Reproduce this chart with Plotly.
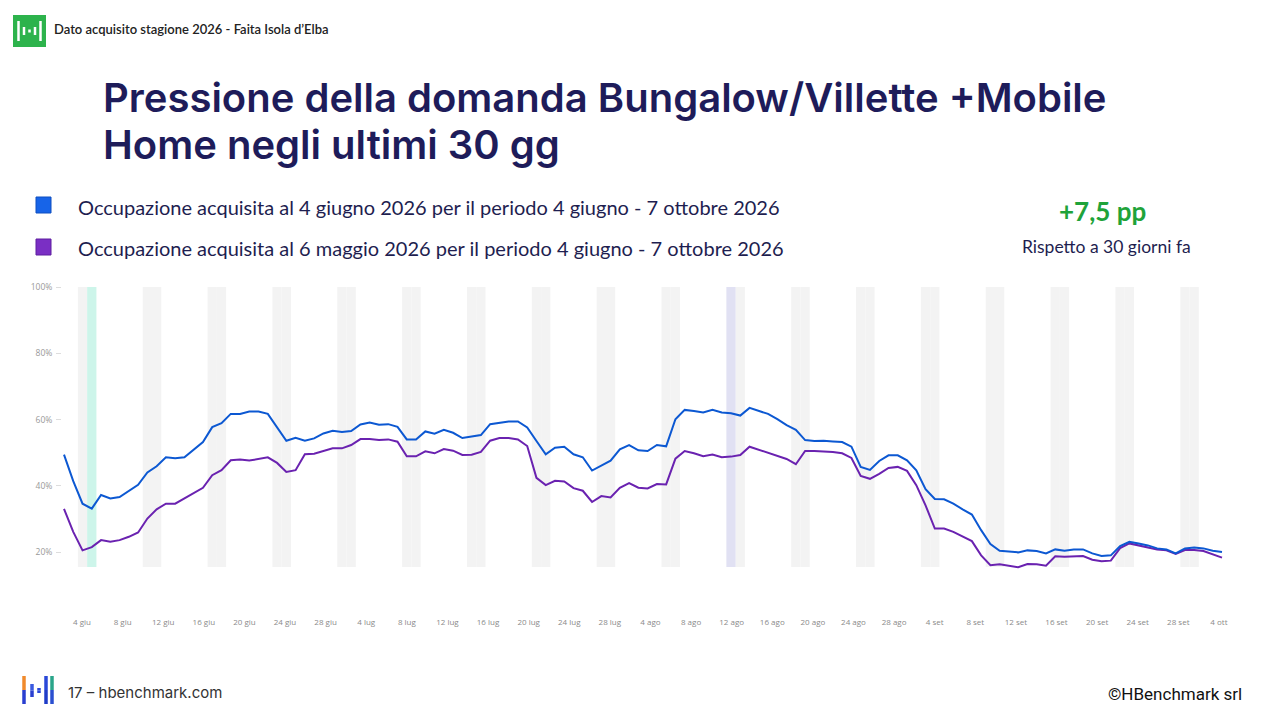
import plotly.graph_objects as go
import pandas as pd

# ---------------- data ----------------
start_date = "2026-06-04"
end_date = "2026-10-07"
dates = pd.date_range(start_date, end_date, freq="D")

occ_4_giugno = [
    49.4, 41.4, 34.6, 33.1, 37.2, 36.2, 36.6, 38.4, 40.3, 44.0,
    45.9, 48.6, 48.3, 48.6, 51.0, 53.2, 57.7, 58.9, 61.7, 61.7,
    62.4, 62.4, 61.7, 57.5, 53.6, 54.5, 53.6, 54.3, 55.8, 56.6,
    56.2, 56.5, 58.5, 59.1, 58.4, 58.6, 57.8, 54.0, 54.0, 56.4,
    55.7, 56.9, 56.0, 54.4, 54.9, 55.3, 58.6, 59.1, 59.4, 59.4,
    57.6, 53.5, 49.5, 51.5, 51.8, 49.5, 48.6, 44.6, 46.0, 47.6,
    51.0, 52.3, 50.7, 50.5, 52.3, 51.9, 60.1, 62.9, 62.6, 62.1,
    62.9, 62.1, 61.9, 61.2, 63.5, 62.7, 61.7, 60.1, 58.3, 56.9,
    53.8, 53.5, 53.6, 53.4, 53.2, 51.8, 45.7, 44.8, 47.5, 49.2,
    49.2, 47.7, 44.7, 39.0, 36.0, 35.9, 34.6, 32.9, 31.3, 26.6,
    22.4, 20.4, 20.2, 19.9, 20.5, 20.3, 19.6, 20.8, 20.4, 20.8,
    20.8, 19.6, 18.8, 19.0, 21.8, 23.1, 22.6, 22.0, 21.1, 20.8,
    19.6, 21.1, 21.4, 21.1, 20.4, 20.0,
]

occ_6_maggio = [
    33.0, 26.1, 20.5, 21.5, 23.6, 23.1, 23.6, 24.6, 25.9, 30.1,
    32.9, 34.6, 34.6, 36.2, 38.0, 39.4, 43.2, 44.7, 47.7, 47.9,
    47.6, 48.2, 48.6, 46.9, 44.2, 44.7, 49.5, 49.7, 50.5, 51.3,
    51.3, 52.3, 54.1, 54.1, 53.8, 54.0, 53.3, 48.9, 48.9, 50.4,
    49.8, 51.1, 50.6, 49.3, 49.4, 50.2, 53.6, 54.4, 54.4, 54.0,
    52.0, 42.4, 40.2, 41.5, 41.3, 39.3, 38.5, 35.1, 36.9, 36.5,
    39.4, 40.8, 39.4, 39.2, 40.5, 40.4, 48.2, 50.5, 49.8, 48.9,
    49.4, 48.6, 48.8, 49.3, 51.8, 50.9, 49.9, 49.0, 48.1, 46.5,
    50.5, 50.5, 50.4, 50.2, 49.8, 48.4, 43.0, 42.1, 43.6, 45.4,
    45.7, 44.5, 40.2, 34.1, 27.1, 27.1, 26.1, 24.6, 23.3, 19.0,
    16.0, 16.3, 15.8, 15.4, 16.4, 16.3, 15.9, 18.7, 18.6, 18.7,
    18.8, 17.7, 17.2, 17.4, 21.2, 22.6, 22.0, 21.5, 20.8, 20.5,
    19.4, 20.6, 20.6, 20.3, 19.3, 18.3,
]

tick_labels = [
    "4 giu", "8 giu", "12 giu", "16 giu", "20 giu", "24 giu", "28 giu",
    "4 lug", "8 lug", "12 lug", "16 lug", "20 lug", "24 lug", "28 lug",
    "4 ago", "8 ago", "12 ago", "16 ago", "20 ago", "24 ago", "28 ago",
    "4 set", "8 set", "12 set", "16 set", "20 set", "24 set", "28 set",
    "4 ott",
]

y_tick_values = [20, 40, 60, 80, 100]
y_tick_labels = ["20%", "40%", "60%", "80%", "100%"]

series_names = [
    "Occupazione acquisita al 4 giugno 2026 per il periodo 4 giugno - 7 ottobre 2026",
    "Occupazione acquisita al 6 maggio 2026 per il periodo 4 giugno - 7 ottobre 2026",
]
highlight_days = ["2026-06-07", "2026-08-15"]
delta_text = "+7,5 pp"
delta_sub = "Rispetto a 30 giorni fa"

# ---------------- styles / layout ----------------
W, H = 1280, 720
L, R, T, B = 62, 1240, 287, 612
PX_PER_DAY = 9.264
BLUE = "#0c58d2"
PURPLE = "#6a22b0"
NAVY = "#1e1c5a"
BAND_GRAY = "#f3f3f3"
HIGHLIGHT_COLORS = ["#cdf5ea", "#e1e1f3"]
BAND_BOTTOM = 15.5


def px(x):
    return (x - L) / (R - L)


def py(y):
    return (B - y) / (B - T)


d0 = pd.Timestamp(start_date)
x_min = d0 + pd.Timedelta(days=(L - 64) / PX_PER_DAY)
x_max = d0 + pd.Timedelta(days=(R - 64) / PX_PER_DAY)
tick_first = 1.943
tick_step = 4.383
tickvals = [d0 + pd.Timedelta(days=tick_first + i * tick_step) for i in range(len(tick_labels))]

fig = go.Figure()

fig.add_trace(go.Scatter(
    x=dates, y=occ_6_maggio, mode="lines", name=series_names[1],
    line=dict(color=PURPLE, width=2), cliponaxis=False, hoverinfo="skip",
))
fig.add_trace(go.Scatter(
    x=dates, y=occ_4_giugno, mode="lines", name=series_names[0],
    line=dict(color=BLUE, width=2), cliponaxis=False, hoverinfo="skip",
))

shapes = []
half = pd.Timedelta(hours=12)
hl = [pd.Timestamp(d) for d in highlight_days]
for d in dates:
    if d.dayofweek >= 5 and d not in hl:
        shapes.append(dict(type="rect", xref="x", yref="y", x0=d - half, x1=d + half,
                           y0=BAND_BOTTOM, y1=100, fillcolor=BAND_GRAY, line_width=0, layer="below"))
for d, c in zip(hl, HIGHLIGHT_COLORS):
    shapes.append(dict(type="rect", xref="x", yref="y", x0=d - half, x1=d + half,
                       y0=BAND_BOTTOM, y1=100, fillcolor=c, line_width=0, layer="below"))

# legend squares
for (y0, y1), fill, border in [((197, 213), "#1764e8", "#0e4fc0"), ((239, 255), "#7a2fc4", "#5e1fa0")]:
    shapes.append(dict(type="rect", xref="paper", yref="paper", x0=px(36), x1=px(51),
                       y0=py(y1), y1=py(y0), fillcolor=fill, line=dict(color=border, width=1)))

# header logo
shapes.append(dict(type="rect", xref="paper", yref="paper", x0=px(13), x1=px(46),
                   y0=py(47), y1=py(15), fillcolor="#2db34c", line_width=0))
for x, ya, yb in [(18.5, 21, 41), (24, 27, 35), (29.5, 29.5, 32.5), (35, 27, 35), (40.5, 21, 41)]:
    shapes.append(dict(type="line", xref="paper", yref="paper", x0=px(x), x1=px(x),
                       y0=py(yb), y1=py(ya), line=dict(color="white", width=2.5)))

# footer logo
for x, ya, yb, ctop, cbot in [(24, 676, 704, "#f08a2c", "#2a3fd0"), (32, 684, 697, "#3a5ae0", "#2a3fd0"),
                              (39, 688, 693, "#2a48d8", "#2a48d8"), (46, 676, 704, "#2a48d8", "#1f3cc8"),
                              (52, 676, 704, "#2aa58a", "#2a4fd0")]:
    ym = (ya + yb) / 2
    shapes.append(dict(type="line", xref="paper", yref="paper", x0=px(x), x1=px(x),
                       y0=py(ym), y1=py(ya), line=dict(color=ctop, width=3.5)))
    shapes.append(dict(type="line", xref="paper", yref="paper", x0=px(x), x1=px(x),
                       y0=py(yb), y1=py(ym), line=dict(color=cbot, width=3.5)))

annotations = []


def text(x, y, s, size, color, family="Lato", anchor="left", weight="normal"):
    annotations.append(dict(xref="paper", yref="paper", x=px(x), y=py(y), text=s, showarrow=False,
                            xanchor=anchor, yanchor="middle",
                            font=dict(family=family, size=size, color=color, weight=weight)))


text(52, 29, "Dato acquisito stagione 2026 - Faita Isola d\u2019Elba", 13, "#222222", weight=600)
text(101, 97, "Pressione della domanda Bungalow/Villette +Mobile", 40, NAVY, family="Inter", weight=600)
text(101, 145, "Home negli ultimi 30 gg", 40, NAVY, family="Inter", weight=600)
text(76, 207, series_names[0], 20, "#1e1e50")
text(76, 248, series_names[1], 20, "#1e1e50")
text(1102, 211, delta_text, 26, "#1fa33a", anchor="center", weight="bold")
text(1106, 246, delta_sub, 17.5, "#1e1e50", anchor="center")
text(66, 692, "17 \u2013 hbenchmark.com", 15, "#333333", family="Inter")
text(1106, 694, "\u00a9HBenchmark srl", 17, "#111111", family="Roboto")

fig.update_layout(
    width=W, height=H, autosize=False,
    margin=dict(l=L, r=W - R, t=T, b=H - B, pad=0),
    paper_bgcolor="white", plot_bgcolor="white",
    showlegend=False,
    shapes=shapes, annotations=annotations,
    xaxis=dict(type="date", range=[x_min, x_max], tickvals=tickvals, ticktext=tick_labels,
               showgrid=False, zeroline=False, showline=False, ticks="",
               tickfont=dict(family="Open Sans", size=8, color="#8a8a8a"), ticklabelstandoff=4),
    yaxis=dict(range=[1.9, 100], tickmode="array", tickvals=y_tick_values, ticktext=y_tick_labels,
               showgrid=False, zeroline=False, showline=False,
               ticks="outside", ticklen=5, tickcolor="#dddddd", tickwidth=1,
               tickfont=dict(family="Open Sans", size=8.5, color="#999999"), ticklabelstandoff=2),
)

fig.write_html("out.html")
